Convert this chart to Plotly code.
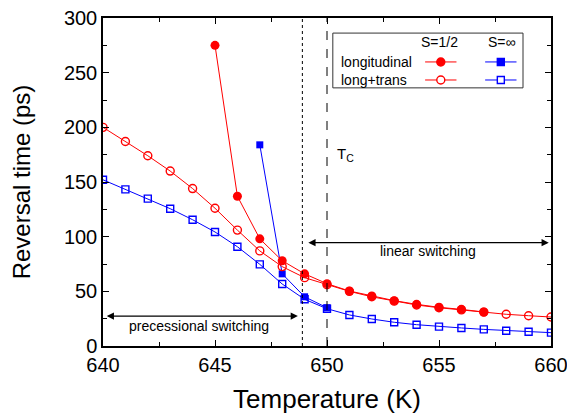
import plotly.graph_objects as go

# ---- data ----
T_all = [640, 641, 642, 643, 644, 645, 646, 647, 648, 649, 650, 651, 652, 653, 654, 655, 656, 657, 658, 659, 660]
lt_half = [200, 187, 174, 160, 144, 126, 106, 87, 72.6, 62.5, 56, 50, 45, 41, 37.5, 35, 33, 31, 29, 27.7, 26.5]
lt_inf = [152, 143.3, 134.8, 125.6, 115.5, 104.3, 90.8, 74.7, 56.7, 42.7, 34.1, 28.4, 24.7, 21.7, 19.5, 17.7, 16.5, 15.2, 14, 13.1, 12.2]

T_long_half = [645, 646, 647, 648, 649, 650, 651, 652, 653, 654, 655, 656, 657]
long_half = [275, 137, 98, 78, 66, 57, 50.3, 45.7, 41.5, 38.1, 35.4, 33.5, 31.1]

T_long_inf = [647, 648, 649, 650]
long_inf = [184, 66, 45, 35]

x_ticks = [640, 645, 650, 655, 660]
y_ticks = [0, 50, 100, 150, 200, 250, 300]

T_dotted = 648.9
T_c = 650

RED = "#ff0000"
BLUE = "#0000ff"
FONT = "Liberation Sans, Arial, sans-serif"

fig = go.Figure()

fig.add_trace(go.Scatter(x=T_long_inf, y=long_inf, mode="lines+markers",
                         line=dict(color=BLUE, width=1),
                         marker=dict(symbol="square", size=7, color=BLUE)))
fig.add_trace(go.Scatter(x=T_all, y=lt_inf, mode="lines+markers",
                         line=dict(color=BLUE, width=1),
                         marker=dict(symbol="square-open", size=7, color=BLUE, line=dict(width=1.4))))
fig.add_trace(go.Scatter(x=T_all, y=lt_half, mode="lines+markers",
                         line=dict(color=RED, width=1),
                         marker=dict(symbol="circle-open", size=8, color=RED, line=dict(width=1.4))))
fig.add_trace(go.Scatter(x=T_long_half, y=long_half, mode="lines+markers",
                         line=dict(color=RED, width=1),
                         marker=dict(symbol="circle", size=9, color=RED)))

shapes = [
    dict(type="line", xref="x", yref="paper", x0=T_dotted, x1=T_dotted, y0=0, y1=1,
         line=dict(color="black", width=1, dash="dot")),
    dict(type="line", xref="x", yref="paper", x0=T_c, x1=T_c, y0=0, y1=1,
         line=dict(color="black", width=1, dash="dash")),
    # legend box
    dict(type="rect", xref="paper", yref="paper", x0=0.513, x1=0.9375, y0=0.787, y1=0.954,
         line=dict(color="#333333", width=1), fillcolor="white", layer="above"),
]

annotations = []

# legend contents
rows = [(0.866, "longitudinal", True), (0.811, "long+trans", False)]
cols = [(0.754, RED, "circle"), (0.888, BLUE, "rect")]
for yc, label, filled in rows:
    annotations.append(dict(x=0.527, y=yc, xref="paper", yref="paper", text=label,
                            showarrow=False, xanchor="left", yanchor="middle",
                            font=dict(family=FONT, size=14, color="black")))
    for xc, col, shp in cols:
        shapes.append(dict(type="line", xref="paper", yref="paper",
                           x0=xc - 0.035, x1=xc + 0.035, y0=yc, y1=yc,
                           line=dict(color=col, width=1), layer="above"))
        r = 4 if shp == "circle" else 3.5
        shapes.append(dict(type=shp, xref="paper", yref="paper",
                           xsizemode="pixel", ysizemode="pixel",
                           xanchor=xc, yanchor=yc, x0=-r, x1=r, y0=-r, y1=r,
                           line=dict(color=col, width=1.4),
                           fillcolor=col if filled else "white", layer="above"))

annotations.append(dict(x=0.752, y=0.926, xref="paper", yref="paper", text="S=1/2",
                        showarrow=False, xanchor="center", yanchor="middle",
                        font=dict(family=FONT, size=14, color="black")))
annotations.append(dict(x=0.891, y=0.926, xref="paper", yref="paper", text="S=∞",
                        showarrow=False, xanchor="center", yanchor="middle",
                        font=dict(family=FONT, size=14, color="black")))

# T_C label
annotations.append(dict(x=650.35, y=175, xref="x", yref="y", text="T<sub>C</sub>",
                        showarrow=False, xanchor="left", yanchor="middle",
                        font=dict(family=FONT, size=15, color="black")))

# arrows
annotations.append(dict(x=659.9, y=94.5, ax=649.1, ay=94.5, xref="x", yref="y",
                        axref="x", ayref="y", text="", showarrow=True,
                        arrowhead=2, startarrowhead=2, arrowside="end+start",
                        arrowsize=1.2, arrowwidth=1.2, arrowcolor="black"))
annotations.append(dict(x=654.5, y=86.5, xref="x", yref="y", text="linear switching",
                        showarrow=False, xanchor="center", yanchor="middle",
                        font=dict(family=FONT, size=14, color="black")))
annotations.append(dict(x=648.7, y=27.4, ax=640.1, ay=27.4, xref="x", yref="y",
                        axref="x", ayref="y", text="", showarrow=True,
                        arrowhead=2, startarrowhead=2, arrowside="end+start",
                        arrowsize=1.2, arrowwidth=1.2, arrowcolor="black"))
annotations.append(dict(x=644.3, y=18, xref="x", yref="y", text="precessional switching",
                        showarrow=False, xanchor="center", yanchor="middle",
                        font=dict(family=FONT, size=14, color="black")))

axis_common = dict(showline=True, linecolor="black", linewidth=1.5, mirror="ticks",
                   ticks="inside", ticklen=6, tickwidth=1, tickcolor="black",
                   showgrid=False, zeroline=False, ticklabeloverflow="allow",
                   automargin=False,
                   tickfont=dict(family=FONT, size=20, color="black"))

fig.update_layout(
    width=567, height=414,
    margin=dict(l=103, r=16, t=18, b=68),
    paper_bgcolor="white", plot_bgcolor="white",
    showlegend=False,
    shapes=shapes, annotations=annotations,
    xaxis=dict(range=[640, 660], tickvals=x_ticks,
               minor=dict(dtick=2.5, tick0=640, ticks="inside", ticklen=4, tickcolor="black"),
               title=dict(text="Temperature (K)", font=dict(family=FONT, size=26, color="black"),
                          standoff=20),
               **axis_common),
    yaxis=dict(range=[0, 300], tickvals=y_ticks,
               minor=dict(dtick=25, tick0=0, ticks="inside", ticklen=4, tickcolor="black"),
               title=dict(text="Reversal time (ps)", font=dict(family=FONT, size=24, color="black"),
                          standoff=26),
               **axis_common),
)

fig.write_html("out.html")
